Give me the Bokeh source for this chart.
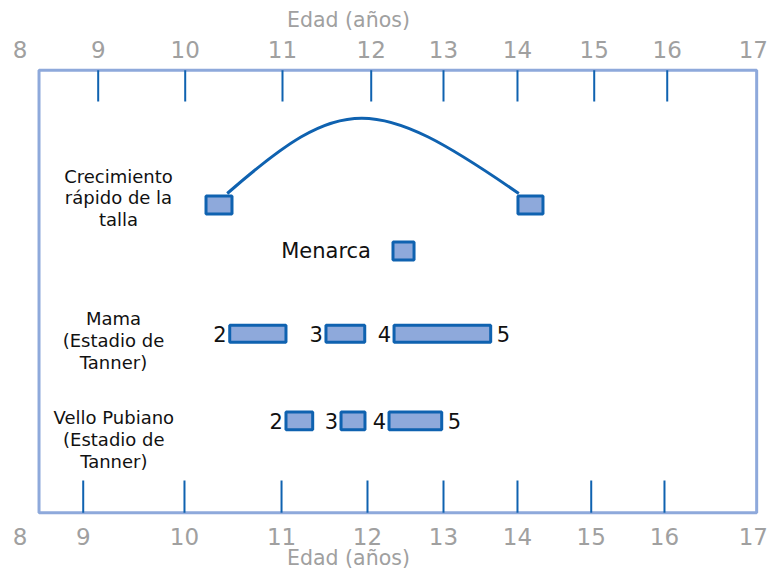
from bokeh.plotting import figure
from bokeh.models import Range1d, LinearAxis, FixedTicker
from bokeh.embed import file_html
from bokeh.resources import INLINE
from bokeh.core.properties import value

# ---------------- data (ages) ----------------
axis_labels = ["8", "9", "10", "11", "12", "13", "14", "15", "16", "17"]
axis_end_pos = [8.0, 17.06]
top_tick_pos = [8.966, 10.041, 11.243, 12.339, 13.232, 14.146, 15.094, 15.996]
bottom_tick_pos = [8.781, 10.032, 11.231, 12.293, 13.232, 14.146, 15.057, 15.962]
axis_title = "Edad (años)"

row_labels = ["Crecimiento\nrápido de la\ntalla", "Mama\n(Estadio de\nTanner)",
              "Vello Pubiano\n(Estadio de\nTanner)"]
menarca_label = "Menarca"

growth_start = [10.298, 14.152]
growth_end = [10.619, 14.461]
growth_curve_x = [10.560, 14.162]

menarca_start = [12.608]
menarca_end = [12.868]

stage_names = ["2", "3", "4"]
final_stage = "5"
mama_start = [10.591, 11.780, 12.621]
mama_end = [11.286, 12.259, 13.815]
vello_start = [11.286, 11.966, 12.559]
vello_end = [11.616, 12.262, 13.210]

# ---------------- layout / style ----------------
FONT = value("DejaVu Sans")
GRAY = "#A0A0A0"
DARK = "#0F62B0"
FILL = "#8EA9DB"
PX = 80.944  # pixels per year

BOX_TOP, BOX_BOTTOM = 69.7, 512.2
BOX_LEFT, BOX_RIGHT = 8.235, 17.101
Y_GROWTH, H_GROWTH = 204.5, 18
Y_MENARCA, H_MENARCA = 250.5, 18
Y_MAMA, H_MAMA = 333.3, 17
Y_VELLO, H_VELLO = 420.3, 17.7
CURVE_BASE, CURVE_PEAK = 193.0, 117.7

p = figure(width=770, height=571,
           x_range=Range1d(8 - 19.5 / PX, 8 + (770 - 19.5) / PX), y_range=Range1d(571, 0),
           output_backend="svg", toolbar_location=None,
           x_axis_location=None, y_axis_location=None,
           min_border=0, outline_line_color=None)
p.grid.visible = False


def make_axis(label_pos, loc, standoff):
    ax = LinearAxis(ticker=FixedTicker(ticks=label_pos), fixed_location=loc)
    ax.axis_line_color = None
    ax.major_tick_line_color = None
    ax.minor_tick_line_color = None
    ax.major_label_text_font = "DejaVu Sans"
    ax.major_label_text_font_size = "23px"
    ax.major_label_text_color = GRAY
    ax.major_label_standoff = standoff
    ax.major_label_overrides = {pos: lab for pos, lab in zip(label_pos, axis_labels)}
    return ax


top_labels_pos = [axis_end_pos[0]] + top_tick_pos + [axis_end_pos[1]]
bottom_labels_pos = [axis_end_pos[0]] + bottom_tick_pos + [axis_end_pos[1]]
p.add_layout(make_axis(top_labels_pos, BOX_TOP, 6), "above")
p.add_layout(make_axis(bottom_labels_pos, BOX_BOTTOM, 9), "below")

# frame box
p.quad(left=[BOX_LEFT], right=[BOX_RIGHT], top=[BOX_TOP], bottom=[BOX_BOTTOM],
       fill_color=None, line_color=FILL, line_width=3)

# tick marks inside the box
p.segment(x0=top_tick_pos, x1=top_tick_pos, y0=BOX_TOP, y1=BOX_TOP + 31.3,
          line_color=DARK, line_width=2)
p.segment(x0=bottom_tick_pos, x1=bottom_tick_pos, y0=BOX_BOTTOM - 32.2, y1=BOX_BOTTOM,
          line_color=DARK, line_width=2)

# axis titles
p.text(x=[12.058], y=[19], text=[axis_title], text_font=FONT, text_font_size="20.5px",
       text_color=GRAY, text_align="center", text_baseline="middle")
p.text(x=[12.058], y=[557], text=[axis_title], text_font=FONT, text_font_size="20.5px",
       text_color=GRAY, text_align="center", text_baseline="middle")

# growth curve
cy = CURVE_BASE - (CURVE_BASE - CURVE_PEAK) / 0.75
p.bezier(x0=[growth_curve_x[0]], y0=[CURVE_BASE], x1=[growth_curve_x[1]], y1=[CURVE_BASE],
         cx0=[growth_curve_x[0] + 115 / PX], cy0=[cy],
         cx1=[growth_curve_x[1] - 145 / PX], cy1=[cy],
         line_color=DARK, line_width=3)

# bars
bar_kw = dict(fill_color=FILL, line_color=DARK, line_width=3)
p.hbar(y=[Y_GROWTH] * len(growth_start), left=growth_start, right=growth_end,
       height=H_GROWTH, **bar_kw)
p.hbar(y=[Y_MENARCA], left=menarca_start, right=menarca_end, height=H_MENARCA, **bar_kw)
p.hbar(y=[Y_MAMA] * 3, left=mama_start, right=mama_end, height=H_MAMA, **bar_kw)
p.hbar(y=[Y_VELLO] * 3, left=vello_start, right=vello_end, height=H_VELLO, **bar_kw)

# stage numbers
num_kw = dict(text_font=FONT, text_font_size="21px", text_color="#111111",
              text_baseline="middle")
for starts, ends, yrow in ((mama_start, mama_end, Y_MAMA), (vello_start, vello_end, Y_VELLO)):
    p.text(x=starts, y=[yrow] * 3, text=stage_names, text_align="right", x_offset=-3, **num_kw)
    p.text(x=[ends[-1]], y=[yrow], text=[final_stage], text_align="left", x_offset=6, **num_kw)

p.text(x=menarca_start, y=[Y_MENARCA], text=[menarca_label], text_align="right",
       x_offset=-22, **num_kw)

# row labels
p.text(x=[9.217, 9.155, 9.159], y=[197.5, 340, 439], text=row_labels, text_font=FONT,
       text_font_size="18px", text_color="#111111", text_align="center",
       text_baseline="middle", text_line_height=1.04)

open("out.html", "w").write(file_html(p, INLINE))
